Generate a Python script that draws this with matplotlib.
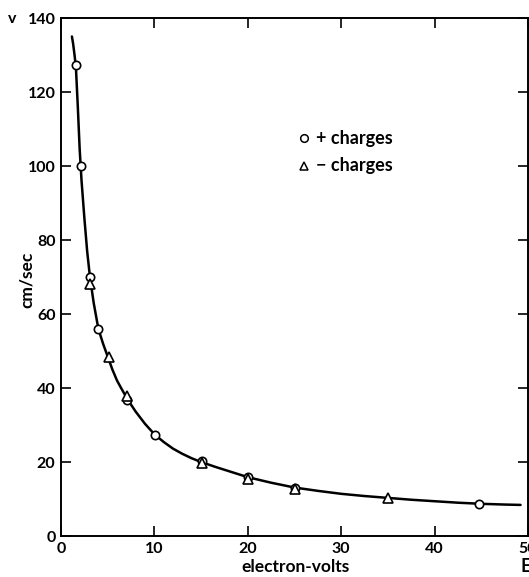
import matplotlib
matplotlib.use("Agg")
import matplotlib.pyplot as plt

# Data
pos_E = [1.6, 2.1, 3.15, 4.0, 7.1, 10.1, 15.1, 20.0, 25.0, 44.8]
pos_v = [127.3, 100.0, 70.0, 56.0, 36.8, 27.3, 20.4, 16.0, 13.0, 8.6]

neg_E = [3.1, 5.1, 7.1, 15.1, 20.0, 25.0, 35.0]
neg_v = [68.0, 48.4, 37.8, 19.8, 15.3, 12.7, 10.3]

curve_E = [1.17, 1.3, 1.45, 1.6, 1.8, 2.0, 2.2, 2.5, 2.8, 3.1, 3.5, 4.0, 4.5,
           5.0, 5.5, 6.0, 6.5, 7.0, 7.5, 8.0, 9.0, 10.0, 11.0, 12.0, 13.0,
           14.0, 15.0, 16.5, 18.0, 20.0, 22.5, 25.0, 27.5, 30.0, 32.5, 35.0,
           37.5, 40.0, 42.5, 45.0, 47.5, 49.2]
curve_v = [135.0, 133.0, 130.0, 126.5, 116.0, 104.5, 96.0, 86.0, 77.0, 70.0,
           63.0, 56.0, 52.0, 48.5, 45.0, 42.0, 39.7, 37.5, 35.5, 33.6, 30.3,
           27.5, 25.4, 23.6, 22.2, 21.0, 20.0, 18.7, 17.5, 15.9, 14.4, 13.1,
           12.2, 11.4, 10.8, 10.3, 9.8, 9.4, 9.0, 8.7, 8.5, 8.4]

x_ticks = [0, 10, 20, 30, 40, 50]
y_ticks = [0, 20, 40, 60, 80, 100, 120, 140]

plt.rcParams['font.family'] = ['Lato', 'DejaVu Sans']
plt.rcParams['font.weight'] = 'bold'

fig = plt.figure(figsize=(5.29, 5.77), dpi=100)
ax = fig.add_axes([61 / 529, 41 / 577, 467 / 529, 518 / 577])

ax.plot(curve_E, curve_v, color='black', lw=1.8, solid_capstyle='round',
        solid_joinstyle='round', zorder=2)
ax.plot(pos_E, pos_v, linestyle='none', marker='o', markersize=6,
        markerfacecolor='white', markeredgecolor='black', markeredgewidth=1.2, zorder=3)
ax.plot(neg_E, neg_v, linestyle='none', marker='^', markersize=6.5,
        markerfacecolor='white', markeredgecolor='black', markeredgewidth=1.2, zorder=4)

ax.set_xlim(0, 49.7)
ax.set_ylim(0, 140)
ax.set_xticks(x_ticks)
ax.set_yticks(y_ticks)
ax.tick_params(direction='in', length=7, width=1.2, top=True, right=True,
               labelsize=11.5, pad=4)
for lab in ax.get_xticklabels() + ax.get_yticklabels():
    lab.set_fontweight('bold')
for sp in ax.spines.values():
    sp.set_linewidth(1.4)

fig.text(296 / 529, 1 - 567 / 577, 'electron-volts', fontsize=12.5,
         fontweight='bold', ha='center', va='center')
fig.text(27 / 529, 1 - 280 / 577, 'cm/sec', fontsize=12.5, fontweight='bold',
         ha='center', va='center', rotation=90)

fig.text(12 / 529, 1 - 19 / 577, 'v', fontsize=11.5, fontweight='bold',
         ha='center', va='center')
fig.text(521 / 529, 1 - 567 / 577, 'E', fontsize=13, fontweight='bold',
         ha='left', va='center')

# legend drawn manually
ax.plot([26.0], [107.5], linestyle='none', marker='o', markersize=5.5,
        markerfacecolor='white', markeredgecolor='black', markeredgewidth=1.1,
        clip_on=False)
ax.plot([26.0], [100.0], linestyle='none', marker='^', markersize=6,
        markerfacecolor='white', markeredgecolor='black', markeredgewidth=1.1,
        clip_on=False)
ax.text(27.3, 107.5, '+ charges', fontsize=13, fontweight='bold', va='center', ha='left')
ax.text(27.3, 100.0, '\u2212 charges', fontsize=13, fontweight='bold', va='center', ha='left')

fig.savefig('out.png', dpi=100)
